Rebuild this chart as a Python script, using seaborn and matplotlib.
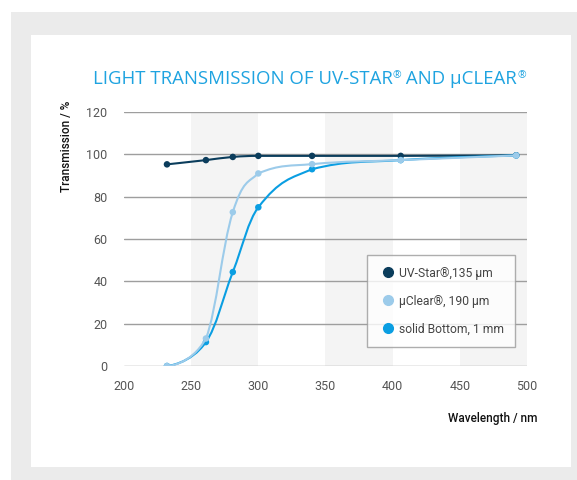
import numpy as np
import pandas as pd
import matplotlib.pyplot as plt
import seaborn as sns
from matplotlib.path import Path
from matplotlib.patches import PathPatch, Rectangle
from matplotlib.lines import Line2D

# Wavelength sample points (nm)
wavelength = [232, 261, 281, 300, 340, 406, 492]

# Transmission values (%)
uv_star = [95.3, 97.3, 98.8, 99.3, 99.3, 99.3, 99.6]
uclear = [0.0, 13.0, 72.7, 91.0, 95.4, 97.3, 99.5]
solid_bottom = [0.0, 11.3, 44.4, 75.0, 93.0, 97.3, 99.5]

series_names = ['UV-Star®,135 µm', 'µClear®, 190 µm', 'solid Bottom, 1 mm']
series_colors = ['#0b3d5c', '#9ccbea', '#0a9ee2']
shaded_bands = [(250, 300), (350, 400), (450, 500)]

x_ticks = [200, 250, 300, 350, 400, 450, 500]
y_ticks = [0, 20, 40, 60, 80, 100, 120]


def spline_path(xs, ys, smoothing=1.5):
    # bezier path with smoothed control points through the given points
    n = len(xs)
    left = [(x, y) for x, y in zip(xs, ys)]
    right = [(x, y) for x, y in zip(xs, ys)]
    d = smoothing + 1
    for i in range(1, n - 1):
        x, y = xs[i], ys[i]
        lx, ly = xs[i - 1], ys[i - 1]
        nx, ny = xs[i + 1], ys[i + 1]
        lcx, lcy = (smoothing * x + lx) / d, (smoothing * y + ly) / d
        rcx, rcy = (smoothing * x + nx) / d, (smoothing * y + ny) / d
        if rcx != lcx:
            corr = (rcy - lcy) * (rcx - x) / (rcx - lcx) + y - rcy
            lcy += corr
            rcy += corr
            if lcy > ly and lcy > y:
                lcy = max(ly, y)
                rcy = 2 * y - lcy
            elif lcy < ly and lcy < y:
                lcy = min(ly, y)
                rcy = 2 * y - lcy
            if rcy > ny and rcy > y:
                rcy = max(ny, y)
                lcy = 2 * y - rcy
            elif rcy < ny and rcy < y:
                rcy = min(ny, y)
                lcy = 2 * y - rcy
        left[i] = (lcx, lcy)
        right[i] = (rcx, rcy)
    verts = [(xs[0], ys[0])]
    codes = [Path.MOVETO]
    for i in range(1, n):
        verts += [right[i - 1], left[i], (xs[i], ys[i])]
        codes += [Path.CURVE4] * 3
    return Path(verts, codes)


df = pd.DataFrame({
    'wavelength': wavelength * 3,
    'transmission': uv_star + uclear + solid_bottom,
    'series': [series_names[0]] * 7 + [series_names[1]] * 7 + [series_names[2]] * 7,
})

sns.set_style('white')
plt.rcParams['font.family'] = ['Roboto', 'DejaVu Sans']

fig = plt.figure(figsize=(5.77, 4.80), dpi=100)
fig.patch.set_facecolor('white')
fig.patches.append(Rectangle((0.019, 0.0), 0.981, 0.975, transform=fig.transFigure,
                             facecolor='#ebebeb', edgecolor='none', zorder=-10))
fig.patches.append(Rectangle((0.0537, 0.027), 0.936, 0.900, transform=fig.transFigure,
                             facecolor='white', edgecolor='none', zorder=-9))

ax = fig.add_axes([0.2149, 0.2375, 0.6984, 0.529])
ax.set_facecolor('none')

for a, b in shaded_bands:
    ax.axvspan(a, b, color='#f4f4f4', zorder=0, lw=0)
for yv in y_ticks:
    ax.axhline(yv, color='#9e9e9e', lw=1.0, zorder=1)

order = [0, 2, 1]
for k in order:
    vals = [uv_star, uclear, solid_bottom][k]
    ax.add_patch(PathPatch(spline_path(wavelength, vals), facecolor='none',
                           edgecolor=series_colors[k], lw=1.5, zorder=3 + k * 0.1 + (k == 1)))
    sub = df[df['series'] == series_names[k]]
    sns.scatterplot(data=sub, x='wavelength', y='transmission', color=series_colors[k],
                    s=22, edgecolor='none', ax=ax, zorder=4 + (k == 1), legend=False)

ax.set_xlim(200, 500)
ax.set_ylim(0, 120)
ax.set_xticks(x_ticks)
ax.set_yticks(y_ticks)
ax.tick_params(axis='both', length=0, labelsize=9, labelcolor='#555555')
ax.tick_params(axis='y', pad=12)
ax.tick_params(axis='x', pad=10)
for s in ax.spines.values():
    s.set_visible(False)
ax.set_xlabel('')
ax.set_ylabel('')

# title in pieces so the ® signs sit small and raised
title_kw = dict(fontsize=13.4, color='#1ea3e0', family=['Open Sans', 'DejaVu Sans'])
t1 = fig.text(0.161, 0.825, 'LIGHT TRANSMISSION OF UV-STAR', ha='left', va='baseline', **title_kw)
r1 = ax.annotate('®', xy=(1, 1), xycoords=t1, ha='left', va='top', fontsize=7.5,
                 color='#1ea3e0', family=['Open Sans', 'DejaVu Sans'], annotation_clip=False)
t2 = ax.annotate(' AND µCLEAR', xy=(1, 0), xycoords=(r1, t1), ha='left', va='bottom',
                 annotation_clip=False, **title_kw)
ax.annotate('®', xy=(1, 1), xycoords=t2, ha='left', va='top', fontsize=7.5,
            color='#1ea3e0', family=['Open Sans', 'DejaVu Sans'], annotation_clip=False)

fig.text(0.115, 0.79, 'Transmission / %', rotation=90, fontsize=8.5, fontweight='medium',
         color='#111111', ha='center', va='top')
fig.text(0.931, 0.128, 'Wavelength / nm', fontsize=8.5, fontweight='medium',
         color='#111111', ha='right', va='center')

handles = [Line2D([], [], marker='o', ls='none', color=c, markersize=7) for c in series_colors]
leg = ax.legend(handles, series_names, loc='upper left', bbox_to_anchor=(0.603, 0.437),
                fontsize=8.7, frameon=True, fancybox=False, edgecolor='#9a9a9a',
                labelspacing=1.25, borderpad=0.95, handletextpad=0.1, handlelength=1.6,
                borderaxespad=0)
leg.get_frame().set_linewidth(1.0)
for t in leg.get_texts():
    t.set_color('#444444')

fig.savefig('out.png', dpi=100)
